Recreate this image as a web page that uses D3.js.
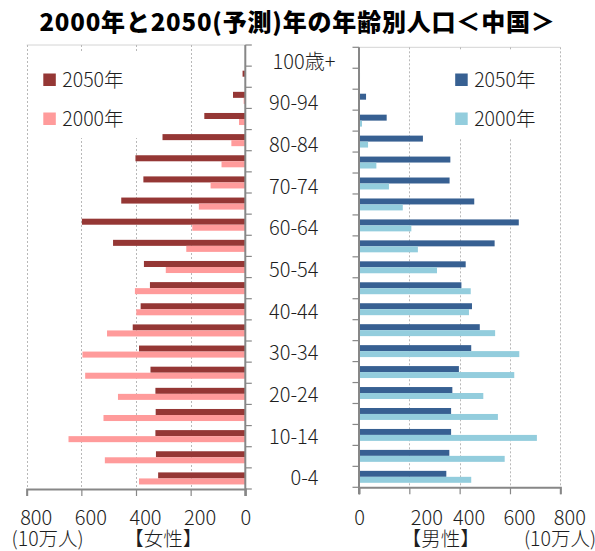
<!DOCTYPE html>
<html lang="ja">
<head>
<meta charset="utf-8">
<script src="https://cdn.jsdelivr.net/npm/d3@7"></script>
<style>
  html, body { margin: 0; padding: 0; background: #fff; }
  svg { display: block; font-family: "Noto Sans CJK JP", "Noto Sans", sans-serif; }
</style>
</head>
<body>
<svg id="chart" width="595" height="551"></svg>
<script>
// Age groups, youngest first
const ageGroups = ["0-4","5-9","10-14","15-19","20-24","25-29","30-34","35-39","40-44","45-49",
  "50-54","55-59","60-64","65-69","70-74","75-79","80-84","85-89","90-94","95-99","100+"];
// Labels shown on the centre axis (every other group)
const ageLabels = ["0-4","10-14","20-24","30-34","40-44","50-54","60-64","70-74","80-84","90-94","100歳+"];

// Population, unit: 10万人
const female2050 = [319,327,329,328,329,347,389,412,383,349,371,484,598,454,373,402,303,150,45,10,1];
const female2000 = [389,514,647,519,466,586,596,506,399,404,291,216,194,170,127,87,51,23,6,1,0];
const male2050   = [347,359,366,366,371,397,446,480,449,407,424,539,635,458,360,363,254,110,28,4,0];
const male2000   = [446,579,707,552,494,617,637,541,437,444,310,234,208,174,119,69,36,12,2,0,0];

const xTicks = [0, 200, 400, 600, 800];
const seriesNames = ["2050年", "2000年"];
const femaleColors = ["#953735", "#ff9b9b"];
const maleColors = ["#376092", "#93cddd"];

const svg = d3.select("#chart");
const axisColor = "#878787";
const gridColor = "#b8b8b8";
const textColor = "#1e1e1e";
const lightWeight = 300;

// Scales
const topDown = ageGroups.slice().reverse();
const xF = d3.scaleLinear().domain([0, 800]).range([245.3, 26.7]);
const xM = d3.scaleLinear().domain([0, 800]).range([359, 560.3]);
const yF = d3.scaleBand().domain(topDown).range([45, 489]).paddingInner(0.43).paddingOuter(0.215);
const yM = d3.scaleBand().domain(topDown).range([47.3, 487.3]).paddingInner(0.43).paddingOuter(0.215);
const yLabel = d3.scalePoint().domain(topDown).range([61.7, 478.3]);

function panel(x, y, f2050, f2000, colors, side) {
  const g = svg.append("g");
  const [y0, y1] = y.range();
  // plot area top border
  g.append("line").attr("x1", x(0)).attr("x2", x(800)).attr("y1", y0).attr("y2", y0)
    .attr("stroke", "#d4d4d4").attr("stroke-width", 1);
  // vertical gridlines
  g.selectAll("line.grid").data(xTicks.filter(d => d > 0)).join("line")
    .attr("class", "grid")
    .attr("x1", d => Math.round(x(d)) + 0.5).attr("x2", d => Math.round(x(d)) + 0.5)
    .attr("y1", y0).attr("y2", y1)
    .attr("stroke", gridColor).attr("stroke-width", 1).attr("stroke-dasharray", "2,2");

  // legend background (hides gridlines under the legend)
  const lx = side === "left" ? 30 : 442;
  g.append("rect").attr("x", lx).attr("y", 51).attr("width", 113).attr("height", 87).attr("fill", "#fff");

  // bars
  const h = y.bandwidth() / 2;
  const data = [f2050, f2000];
  data.forEach((vals, si) => {
    g.selectAll("rect.s" + si).data(vals).join("rect")
      .attr("class", "s" + si)
      .attr("x", d => Math.min(x(0), x(d)))
      .attr("width", d => Math.abs(x(d) - x(0)))
      .attr("y", (d, i) => y(ageGroups[i]) + si * h)
      .attr("height", h)
      .attr("fill", colors[si]);
  });

  // category axis (centre side)
  const axX = x(0);
  g.append("line").attr("x1", axX).attr("x2", axX).attr("y1", y0).attr("y2", y1 + 7)
    .attr("stroke", axisColor).attr("stroke-width", 2);
  const bounds = topDown.map(d => y(d) - (y.step() - y.bandwidth()) / 2).concat([y1]);
  const dir = side === "left" ? 1 : -1;
  g.selectAll("line.ctick").data(bounds).join("line")
    .attr("class", "ctick")
    .attr("x1", axX).attr("x2", axX + dir * 6.5)
    .attr("y1", d => d).attr("y2", d => d)
    .attr("stroke", axisColor).attr("stroke-width", 1.2);

  // value axis
  const ax = g.append("g").attr("transform", `translate(0,${y1})`)
    .call(d3.axisBottom(x).tickValues(xTicks).tickSize(7).tickFormat(d3.format("d")));
  ax.select(".domain").attr("stroke", axisColor).attr("stroke-width", 2);
  ax.selectAll(".tick line").attr("stroke", axisColor).attr("stroke-width", 1.2);
  ax.selectAll(".tick text")
    .attr("fill", textColor)
    .attr("font-size", 20)
    .attr("font-weight", lightWeight)
    .attr("font-family", "'Noto Sans CJK JP', sans-serif")
    .attr("dy", 0)
    .attr("y", 525 - y1)
    .attr("dx", d => d === 0 ? 0 : (side === "right" && d === 200 ? 17 : 9));
  return g;
}

panel(xF, yF, female2050, female2000, femaleColors, "left");
panel(xM, yM, male2050, male2000, maleColors, "right");

// legends
function legend(x0, colors) {
  const lg = svg.append("g");
  seriesNames.forEach((name, i) => {
    const cy = 79.8 + i * 39;
    lg.append("rect").attr("x", x0).attr("y", cy - 6.3).attr("width", 12.5).attr("height", 12.5)
      .attr("fill", colors[i]);
    lg.append("text").attr("x", x0 + 19).attr("y", cy).attr("dy", "0.36em")
      .attr("font-size", 19.5).attr("font-weight", lightWeight).attr("fill", textColor).text(name);
  });
}
legend(43.3, femaleColors);
legend(455.2, maleColors);

// age labels in the centre
svg.append("g").selectAll("text").data(ageLabels).join("text")
  .attr("x", d => d.includes("歳") ? 304 : 318.5)
  .attr("text-anchor", d => d.includes("歳") ? "middle" : "end")
  .attr("y", d => yLabel(d.replace("歳", "")))
  .attr("dy", "0.35em")
  .attr("font-size", 20)
  .attr("font-weight", lightWeight)
  .attr("fill", textColor)
  .text(d => d);

// unit and side captions
const captions = [
  { t: "(10万人)", x: 47.7 },
  { t: "【女性】", x: 163.3 },
  { t: "【男性】", x: 440.8 },
  { t: "(10万人)", x: 560 }
];
svg.append("g").selectAll("text").data(captions).join("text")
  .attr("x", d => d.x).attr("y", 546)
  .attr("text-anchor", "middle")
  .attr("font-size", 19.5)
  .attr("font-weight", lightWeight)
  .attr("fill", textColor)
  .text(d => d.t);

// title
svg.append("text")
  .attr("x", 297.5).attr("y", 30.5)
  .attr("text-anchor", "middle")
  .attr("font-size", 24)
  .attr("font-weight", 900)
  .attr("letter-spacing", 0.8)
  .attr("fill", "#000")
  .text("2000年と2050(予測)年の年齢別人口＜中国＞");
</script>
</body>
</html>
